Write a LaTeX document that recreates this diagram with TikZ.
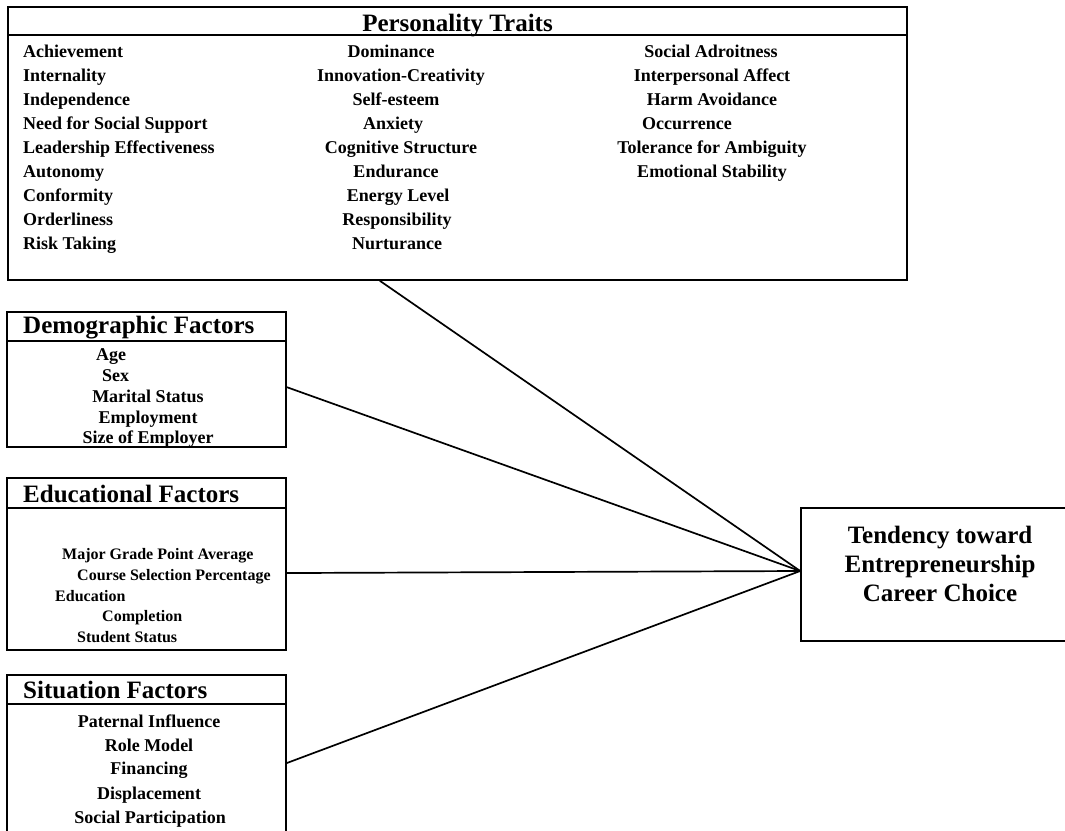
\documentclass[tikz,border=0pt]{standalone}
\usepackage{fontspec}
\setmainfont{Liberation Serif}
\usetikzlibrary{calc}
\tikzset{
  box/.style={draw, line width=1.6pt, inner sep=0pt, rectangle},
  sep/.style={line width=1.6pt},
  conn/.style={line width=1.7pt},
  itm/.style={font=\fontsize{18}{21}\selectfont\bfseries, inner sep=0pt, anchor=base},
  itmw/.style={font=\fontsize{18}{21}\selectfont\bfseries, inner sep=0pt, anchor=base west},
  itms/.style={font=\fontsize{16}{19}\selectfont\bfseries, inner sep=0pt, anchor=base west},
  ttl/.style={font=\fontsize{25}{29}\selectfont\bfseries, inner sep=0pt, anchor=base west},
  ttlc/.style={font=\fontsize{25}{29}\selectfont\bfseries, inner sep=0pt, anchor=base}
}
\begin{document}
\begin{tikzpicture}[x=1pt,y=-1pt]
\useasboundingbox (0,0) rectangle (1065,830);
\clip (0,0) rectangle (1065,830);
\fill[white] (0,0) rectangle (1065,830);

% boxes
\node[box, minimum width=899pt, minimum height=273pt] (pers) at (457.5,143.5) {};
\node[box, minimum width=279pt, minimum height=135pt] (demo) at (146.5,379.5) {};
\node[box, minimum width=279pt, minimum height=172pt] (edu) at (146.5,564) {};
\node[box, minimum width=279pt, minimum height=175pt] (sit) at (146.5,762.5) {};
\node[box, minimum width=278pt, minimum height=133pt] (tend) at (940,574.5) {};

% separators
\draw[sep] ($(pers.north west)+(0,29)$) -- ($(pers.north east)+(0,29)$);
\draw[sep] ($(demo.north west)+(0,30)$) -- ($(demo.north east)+(0,30)$);
\draw[sep] ($(edu.north west)+(0,31)$) -- ($(edu.north east)+(0,31)$);
\draw[sep] ($(sit.north west)+(0,30)$) -- ($(sit.north east)+(0,30)$);

% titles
\node[ttlc] (perst) at (457.5,31) {Personality Traits};
\node[ttl] (demot) at (23,333) {Demographic Factors};
\node[ttl] (edut) at (23,502) {Educational Factors};
\node[ttl] (sitt) at (23,698) {Situation Factors};

% personality column 1
\node[itmw] (p11) at (23,57) {Achievement};
\node[itmw] (p12) at (23,81) {Internality};
\node[itmw] (p13) at (23,105) {Independence};
\node[itmw] (p14) at (23,129) {Need for Social Support};
\node[itmw] (p15) at (23,153) {Leadership Effectiveness};
\node[itmw] (p16) at (23,177) {Autonomy};
\node[itmw] (p17) at (23,201) {Conformity};
\node[itmw] (p18) at (23,225) {Orderliness};
\node[itmw] (p19) at (23,249) {Risk Taking};

% personality column 2
\node[itm] (p21) at (391,57) {Dominance};
\node[itm] (p22) at (401,81) {Innovation-Creativity};
\node[itm] (p23) at (396,105) {Self-esteem};
\node[itm] (p24) at (393,129) {Anxiety};
\node[itm] (p25) at (401,153) {Cognitive Structure};
\node[itm] (p26) at (396,177) {Endurance};
\node[itm] (p27) at (398,201) {Energy Level};
\node[itm] (p28) at (397,225) {Responsibility};
\node[itm] (p29) at (397,249) {Nurturance};

% personality column 3
\node[itm] (p31) at (711,57) {Social Adroitness};
\node[itm] (p32) at (712,81) {Interpersonal Affect};
\node[itm] (p33) at (712,105) {Harm Avoidance};
\node[itmw] (p34) at (642,129) {Occurrence};
\node[itm] (p35) at (712,153) {Tolerance for Ambiguity};
\node[itm] (p36) at (712,177) {Emotional Stability};

% demographic
\node[itmw] (d1) at (96,360) {Age};
\node[itmw] (d2) at (102,381) {Sex};
\node[itm] (d3) at (148,402) {Marital Status};
\node[itm] (d4) at (148,423) {Employment};
\node[itm] (d5) at (148,443) {Size of Employer};

% educational
\node[itms] (e1) at (62,559) {Major Grade Point Average};
\node[itms] (e2) at (77,580) {Course Selection Percentage};
\node[itms] (e3) at (55,601) {Education};
\node[itms] (e4) at (102,621) {Completion};
\node[itms] (e5) at (77,642) {Student Status};

% situation
\node[itm] (s1) at (149,727) {Paternal Influence};
\node[itm] (s2) at (149,751) {Role Model};
\node[itm] (s3) at (149,774) {Financing};
\node[itm] (s4) at (149,799) {Displacement};
\node[itm] (s5) at (150,823) {Social Participation};

% outcome text
\node[ttlc] (t1) at (940,543) {Tendency toward};
\node[ttlc] (t2) at (940,572) {Entrepreneurship};
\node[ttlc] (t3) at (940,601) {Career Choice};

% connectors
\coordinate (conv) at ($(tend.north west)!0.474!(tend.south west)$);
\draw[conn] ($(pers.south west)!0.4138!(pers.south east)$) -- (conv);
\draw[conn] ($(demo.north east)!0.556!(demo.south east)$) -- (conv);
\draw[conn] ($(edu.north east)!0.552!(edu.south east)$) -- (conv);
\draw[conn] ($(sit.north east)!0.503!(sit.south east)$) -- (conv);
\end{tikzpicture}
\end{document}
